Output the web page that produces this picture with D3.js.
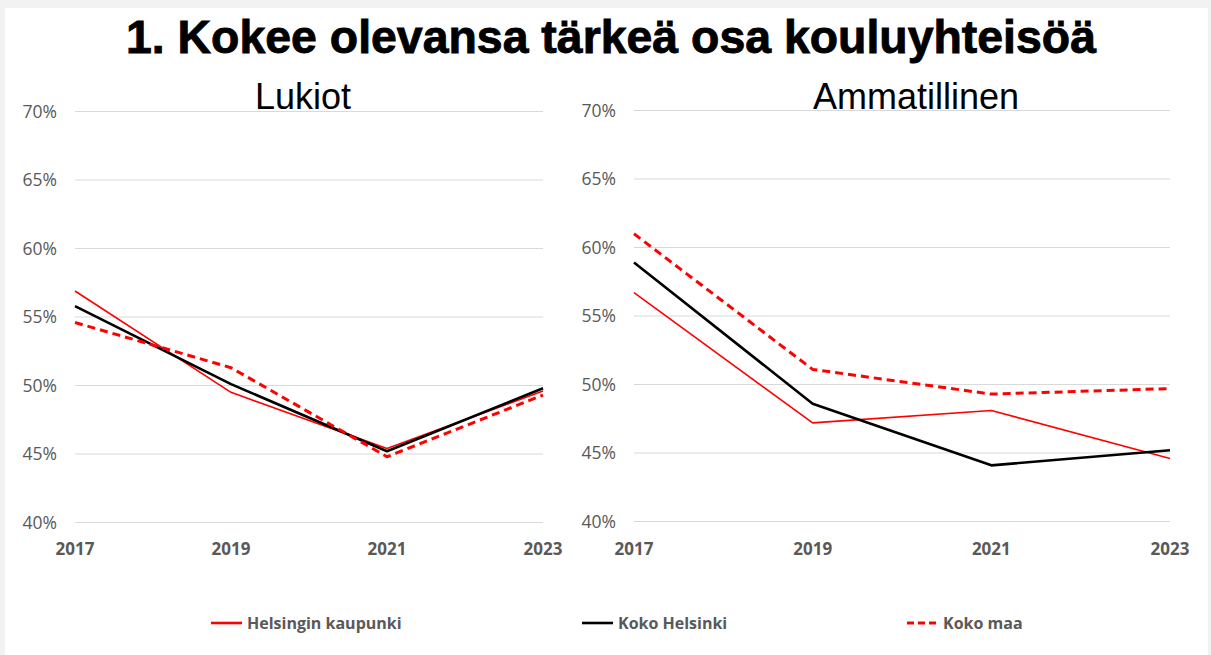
<!DOCTYPE html>
<html>
<head>
<meta charset="utf-8">
<script src="https://cdn.jsdelivr.net/npm/d3@7"></script>
<style>
  html, body { margin: 0; padding: 0; background: #f2f2f2; }
  svg { display: block; }
</style>
</head>
<body>
<svg id="chart"></svg>
<script>
// Data
const years = ['2017', '2019', '2021', '2023'];
const yTicks = [0.40, 0.45, 0.50, 0.55, 0.60, 0.65, 0.70];
const seriesNames = ['Helsingin kaupunki', 'Koko Helsinki', 'Koko maa'];

// Lukiot
const lukiotKaupunki = [0.569, 0.495, 0.454, 0.496];
const lukiotHelsinki = [0.558, 0.501, 0.452, 0.498];
const lukiotMaa = [0.546, 0.513, 0.448, 0.493];

// Ammatillinen
const ammKaupunki = [0.567, 0.472, 0.481, 0.446];
const ammHelsinki = [0.589, 0.486, 0.441, 0.452];
const ammMaa = [0.610, 0.511, 0.493, 0.497];

// SVG Dimensions
const width = 1211;
const height = 655;

const svg = d3.select('#chart')
    .attr('width', width)
    .attr('height', height);

// white slide area
svg.append('rect')
    .attr('x', 5).attr('y', 8)
    .attr('width', 1203).attr('height', height - 8)
    .attr('fill', '#fff');

// Title
svg.append('text')
    .attr('x', 611).attr('y', 53)
    .attr('text-anchor', 'middle')
    .style('font-family', '"Liberation Sans", Arial, sans-serif')
    .style('font-weight', 'bold')
    .style('font-size', '47px')
    .attr('stroke', '#000')
    .attr('stroke-width', 0.9)
    .attr('textLength', 970)
    .attr('lengthAdjust', 'spacingAndGlyphs')
    .text('1. Kokee olevansa tärkeä osa kouluyhteisöä');

const styles = [
    { color: '#ff0000', width: 1.6, dash: null },
    { color: '#000000', width: 2.6, dash: null },
    { color: '#ff0000', width: 3, dash: '8,5' }
];

const panels = [
    { title: 'Lukiot', x0: 75, x1: 543, y0: 522.5, y1: 111.5, labelX: 56,
      data: [lukiotKaupunki, lukiotHelsinki, lukiotMaa] },
    { title: 'Ammatillinen', x0: 634, x1: 1170, y0: 521.5, y1: 110.5, labelX: 615,
      data: [ammKaupunki, ammHelsinki, ammMaa] }
];

panels.forEach(p => {
    const g = svg.append('g');

    const x = d3.scalePoint().domain(years).range([p.x0, p.x1]);
    const y = d3.scaleLinear().domain([0.40, 0.70]).range([p.y0, p.y1]);

    // Gridlines
    g.selectAll('line.grid')
        .data(yTicks)
        .enter()
        .append('line')
        .attr('class', 'grid')
        .attr('x1', p.x0).attr('x2', p.x1)
        .attr('y1', d => y(d)).attr('y2', d => y(d))
        .attr('stroke', '#d9d9d9')
        .attr('stroke-width', 1);

    // Y tick labels
    g.selectAll('text.ytick')
        .data(yTicks)
        .enter()
        .append('text')
        .attr('class', 'ytick')
        .attr('x', p.labelX + 1)
        .attr('y', d => y(d) + 6)
        .attr('text-anchor', 'end')
        .style('font-family', '"Open Sans", sans-serif')
        .style('font-size', '17.5px')
        .attr('fill', '#595959')
        .text(d3.format('.0%'));

    // X tick labels
    g.selectAll('text.xtick')
        .data(years)
        .enter()
        .append('text')
        .attr('class', 'xtick')
        .attr('x', d => x(d))
        .attr('y', 555)
        .attr('text-anchor', 'middle')
        .style('font-family', '"Open Sans", sans-serif')
        .style('font-weight', 'bold')
        .style('font-size', '17px')
        .attr('fill', '#595959')
        .text(d => d);

    // Lines
    const line = d3.line()
        .x((d, i) => x(years[i]))
        .y(d => y(d));

    p.data.forEach((vals, i) => {
        g.append('path')
            .datum(vals)
            .attr('d', line)
            .attr('fill', 'none')
            .attr('stroke', styles[i].color)
            .attr('stroke-width', styles[i].width)
            .attr('stroke-dasharray', styles[i].dash)
            .attr('stroke-linejoin', 'round');
    });

    // Subtitle
    g.append('text')
        .attr('x', (p.x0 + p.x1) / 2 + (p.title === 'Lukiot' ? -6 : 14))
        .attr('y', 109)
        .attr('text-anchor', 'middle')
        .style('font-family', '"Liberation Sans", Arial, sans-serif')
        .style('font-size', '36px')
        .attr('fill', '#000')
        .text(p.title);
});

// Legend
const legendX = [211, 582, 907];
const legend = svg.append('g');
seriesNames.forEach((name, i) => {
    legend.append('line')
        .attr('x1', legendX[i]).attr('x2', legendX[i] + 31)
        .attr('y1', 623).attr('y2', 623)
        .attr('stroke', styles[i].color)
        .attr('stroke-width', styles[i].dash ? 3 : 2.6)
        .attr('stroke-dasharray', styles[i].dash ? '7,4' : null);
    legend.append('text')
        .attr('x', legendX[i] + 36)
        .attr('y', 629)
        .style('font-family', '"Open Sans", sans-serif')
        .style('font-weight', 'bold')
        .style('font-size', '16px')
        .attr('fill', '#595959')
        .text(name);
});
</script>
</body>
</html>
